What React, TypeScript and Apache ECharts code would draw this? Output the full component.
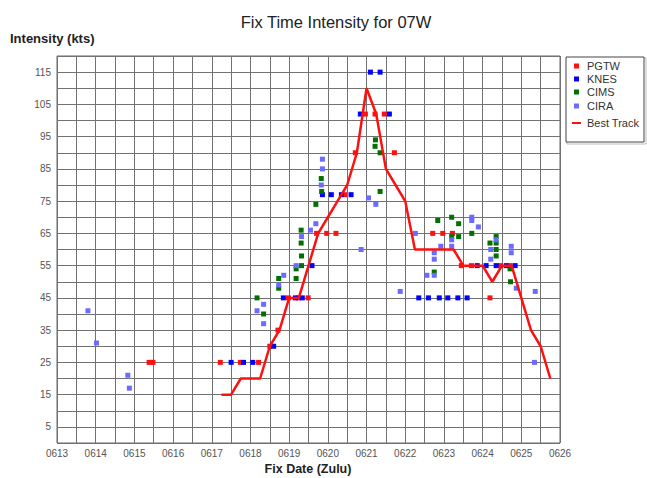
import React, { useEffect, useRef } from "react";
import * as echarts from "echarts";

// Fix times are fractional June days (e.g. 21.25 = 0621 06Z); intensities in knots.
const PGTW: [number, number][] = [
  [15.38, 25], [15.48, 25],
  [17.22, 25], [17.74, 25], [18.21, 25],
  [18.5, 30], [18.71, 35],
  [18.98, 45], [19.24, 45], [19.49, 45],
  [19.71, 65], [19.97, 65], [20.21, 65],
  [20.43, 77], [20.71, 90],
  [20.97, 102], [21.22, 102], [21.46, 102],
  [21.72, 90],
  [22.71, 65], [22.97, 65], [23.22, 65],
  [23.45, 55], [23.71, 55], [24.46, 55], [24.71, 55],
  [24.19, 45],
];

const KNES: [number, number][] = [
  [17.5, 25], [17.82, 25], [18.06, 25],
  [18.6, 30],
  [18.85, 45], [19.16, 45], [19.34, 45],
  [19.59, 55],
  [19.86, 77], [20.09, 77], [20.35, 77], [20.6, 77],
  [20.84, 102], [21.59, 102],
  [21.1, 115], [21.35, 115],
  [22.35, 45], [22.6, 45], [22.88, 45], [23.1, 45], [23.36, 45], [23.6, 45],
  [23.86, 55], [24.09, 55], [24.35, 55], [24.61, 55], [24.84, 55],
];

const CIMS: [number, number][] = [
  [18.17, 45], [18.34, 40],
  [18.73, 51], [18.73, 48],
  [19.18, 54], [19.18, 51],
  [19.31, 66], [19.31, 62], [19.32, 58], [19.32, 55],
  [19.69, 74], [19.83, 82], [19.84, 78],
  [21.23, 94], [21.22, 92], [21.35, 90], [21.35, 78],
  [22.75, 53],
  [22.84, 69], [23.2, 70], [23.38, 68], [23.2, 64], [23.38, 64], [23.72, 65],
  [24.19, 62], [24.35, 64], [24.35, 62], [24.35, 60], [24.35, 58],
  [24.71, 54], [24.72, 50],
];

const CIRA: [number, number][] = [
  [13.8, 41], [14.02, 31], [14.83, 21], [14.87, 17],
  [18.17, 41], [18.34, 43], [18.34, 37],
  [18.73, 49], [18.86, 52],
  [19.18, 55], [19.32, 64], [19.55, 66], [19.69, 68],
  [19.86, 88], [19.86, 85], [19.83, 80],
  [20.86, 60], [21.05, 76], [21.24, 74],
  [21.87, 47], [22.26, 65],
  [22.56, 52], [22.75, 52], [22.75, 57], [22.75, 59],
  [22.92, 61], [23.2, 63], [23.2, 61],
  [23.72, 70], [23.72, 69], [23.89, 67],
  [24.35, 63], [24.21, 60], [24.21, 57],
  [24.74, 61], [24.74, 59], [24.87, 48],
  [25.36, 47], [25.34, 25],
];

const BEST_TRACK: [number, number][] = [
  [17.25, 15], [17.5, 15], [17.75, 20], [18.0, 20], [18.25, 20],
  [18.5, 30], [18.75, 35], [19.0, 45], [19.25, 45], [19.5, 55],
  [19.75, 65], [20.0, 70], [20.25, 75], [20.5, 80], [20.75, 90],
  [21.0, 110], [21.25, 102], [21.5, 85], [21.75, 80], [22.0, 75],
  [22.25, 60], [22.5, 60], [22.75, 60], [23.0, 60], [23.25, 60],
  [23.5, 55], [23.75, 55], [24.0, 55], [24.25, 50], [24.5, 55],
  [24.75, 55], [25.0, 45], [25.25, 35], [25.5, 30], [25.75, 20],
];

const FIRST_DAY = 13;
const LAST_DAY = 26;
const MONTH_PREFIX = "06";

const COLORS = {
  PGTW: "#ff1010",
  KNES: "#0000ff",
  CIMS: "#007000",
  CIRA: "#6b6bff",
  "Best Track": "#ff1010",
};

const FONT = "'Liberation Sans', Arial, sans-serif";
const GRID_COLOR = "#727272";

export default function App() {
  const ref = useRef<HTMLDivElement>(null);

  useEffect(() => {
    if (!ref.current) return;
    const chart = echarts.init(ref.current, undefined, { renderer: "svg" });

    const scatter = (name: keyof typeof COLORS, data: [number, number][]) => ({
      name,
      type: "scatter",
      data,
      symbol: "rect",
      symbolSize: 5,
      itemStyle: { color: COLORS[name], opacity: 1 },
      z: 3,
    });

    const legendItems: { name: keyof typeof COLORS; kind: "dot" | "line" }[] = [
      { name: "PGTW", kind: "dot" },
      { name: "KNES", kind: "dot" },
      { name: "CIMS", kind: "dot" },
      { name: "CIRA", kind: "dot" },
      { name: "Best Track", kind: "line" },
    ];
    const legendX = 566;
    const legendY = 57;
    const legendGraphics: any[] = [
      {
        type: "rect",
        shape: { x: legendX + 1, y: legendY + 1, width: 79, height: 86 },
        style: { fill: "none", stroke: "#bdbdbd", lineWidth: 1 },
      },
      {
        type: "rect",
        shape: { x: legendX, y: legendY, width: 78, height: 85 },
        style: { fill: "#fff", stroke: "#444", lineWidth: 1 },
      },
    ];
    const rowY = [9, 22, 35, 49, 66];
    legendItems.forEach((item, i) => {
      const cy = legendY + rowY[i];
      if (item.kind === "dot") {
        legendGraphics.push({
          type: "rect",
          shape: { x: legendX + 8, y: cy - 2.5, width: 5, height: 5 },
          style: { fill: COLORS[item.name] },
        });
      } else {
        legendGraphics.push({
          type: "line",
          shape: { x1: legendX + 6, y1: cy, x2: legendX + 15, y2: cy },
          style: { stroke: COLORS[item.name], lineWidth: 2 },
        });
      }
      legendGraphics.push({
        type: "text",
        x: legendX + 21,
        y: cy,
        style: {
          text: item.name,
          fill: "#333",
          font: `11px ${FONT}`,
          verticalAlign: "middle",
        },
      });
    });

    chart.setOption({
      animation: false,
      backgroundColor: "#fff",
      title: {
        text: "Fix Time Intensity for 07W",
        left: 331,
        top: 8,
        textAlign: "center",
        textStyle: { fontFamily: FONT, fontSize: 16.5, fontWeight: "normal", color: "#222" },
      },
      grid: {
        left: 57,
        right: 87,
        top: 56,
        bottom: 35,
        show: true,
        borderColor: "#666",
        borderWidth: 1,
        backgroundColor: "transparent",
      },
      xAxis: {
        type: "value",
        min: FIRST_DAY,
        max: LAST_DAY,
        interval: 1,
        axisLine: { show: false },
        axisTick: { show: false },
        minorTick: { show: false, splitNumber: 2 },
        splitLine: { show: true, lineStyle: { color: GRID_COLOR, width: 1 } },
        minorSplitLine: { show: true, lineStyle: { color: GRID_COLOR, width: 1 } },
        axisLabel: {
          formatter: (v: number) => MONTH_PREFIX + String(v),
          color: "#555",
          fontFamily: FONT,
          fontSize: 10,
          margin: 5,
        },
      },
      yAxis: {
        type: "value",
        min: 0,
        max: 120,
        interval: 5,
        axisLine: { show: false },
        axisTick: { show: false },
        splitLine: { show: true, lineStyle: { color: GRID_COLOR, width: 1 } },
        axisLabel: {
          formatter: (v: number) => (v % 10 === 5 ? String(v) : ""),
          color: "#555",
          fontFamily: FONT,
          fontSize: 10,
          margin: 6,
        },
      },
      graphic: [
        {
          type: "text",
          x: 10,
          y: 38,
          style: {
            text: "Intensity (kts)",
            fill: "#222",
            font: `bold 13px ${FONT}`,
            verticalAlign: "middle",
          },
        },
        {
          type: "text",
          x: 308,
          y: 469,
          style: {
            text: "Fix Date (Zulu)",
            fill: "#222",
            font: `bold 12.5px ${FONT}`,
            align: "center",
            verticalAlign: "middle",
          },
        },
        ...legendGraphics,
      ],
      series: [
        scatter("PGTW", PGTW),
        scatter("KNES", KNES),
        scatter("CIMS", CIMS),
        scatter("CIRA", CIRA),
        {
          name: "Best Track",
          type: "line",
          data: BEST_TRACK,
          showSymbol: false,
          symbol: "none",
          lineStyle: { color: COLORS["Best Track"], width: 2.5 },
          z: 4,
        },
      ],
    });

    return () => chart.dispose();
  }, []);

  return (
    <div
      ref={ref}
      style={{ position: "fixed", left: 0, top: 0, width: 647, height: 478, background: "#fff" }}
    />
  );
}
